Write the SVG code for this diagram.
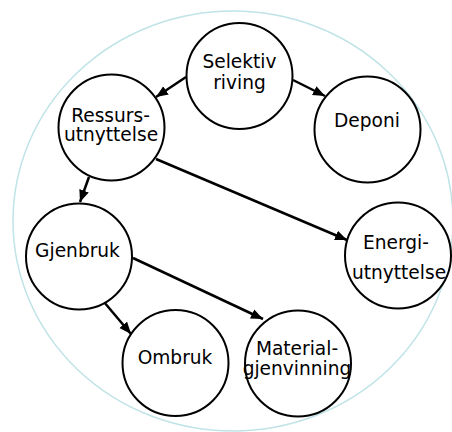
<svg xmlns="http://www.w3.org/2000/svg" width="452" height="432" viewBox="0 0 452 432">
<style>
.bg{fill:#fff}
.outer{fill:none;stroke:#bfe3e6;stroke-width:1.5}
.node{fill:#fff;stroke:#000;stroke-width:2}
.lbl{font-family:"DejaVu Sans",Verdana,sans-serif;font-size:18.6px;fill:#000;text-anchor:middle}
.edge{stroke:#000;stroke-width:2.5;fill:none;marker-end:url(#ah)}
</style>
<defs>
<marker id="ah" markerUnits="userSpaceOnUse" markerWidth="13" markerHeight="11" refX="12" refY="5" orient="auto" viewBox="0 0 13 11">
<path d="M0,0 L12,5 L0,10 z" fill="#000"/>
</marker>
</defs>
<rect class="bg" x="0" y="0" width="452" height="432"/>
<ellipse class="outer" cx="233" cy="221" rx="220" ry="210"/>
<g id="connectors">
<line class="edge" x1="186" y1="77" x2="156" y2="97"/>
<line class="edge" x1="293" y1="80" x2="325" y2="96"/>
<line class="edge" x1="89" y1="177" x2="80" y2="202"/>
<line class="edge" x1="156" y1="159" x2="347" y2="240"/>
<line class="edge" x1="104" y1="302" x2="131" y2="334"/>
<line class="edge" x1="133" y1="258" x2="263" y2="319"/>
</g>
<g id="selektiv">
<circle class="node" cx="239.5" cy="76" r="53"/>
<text class="lbl" x="239.5" y="68">Selektiv</text>
<text class="lbl" x="239.5" y="89">riving</text>
</g>
<g id="deponi">
<circle class="node" cx="367.5" cy="129.5" r="53"/>
<text class="lbl" x="367" y="127">Deponi</text>
</g>
<g id="ressurs">
<circle class="node" cx="111.5" cy="127.5" r="53"/>
<text class="lbl" x="110.5" y="122">Ressurs-</text>
<text class="lbl" x="111" y="141">utnyttelse</text>
</g>
<g id="gjenbruk">
<circle class="node" cx="79" cy="256.5" r="53"/>
<text class="lbl" x="77.5" y="257">Gjenbruk</text>
</g>
<g id="energi">
<circle class="node" cx="398" cy="255.5" r="53"/>
<text class="lbl" x="396" y="249">Energi-</text>
<text class="lbl" x="399" y="279">utnyttelse</text>
</g>
<g id="ombruk">
<circle class="node" cx="175.5" cy="363" r="53"/>
<text class="lbl" x="175" y="364">Ombruk</text>
</g>
<g id="material">
<circle class="node" cx="298" cy="363.5" r="53"/>
<text class="lbl" x="297" y="355">Material-</text>
<text class="lbl" x="297" y="375">gjenvinning</text>
</g>
</svg>
